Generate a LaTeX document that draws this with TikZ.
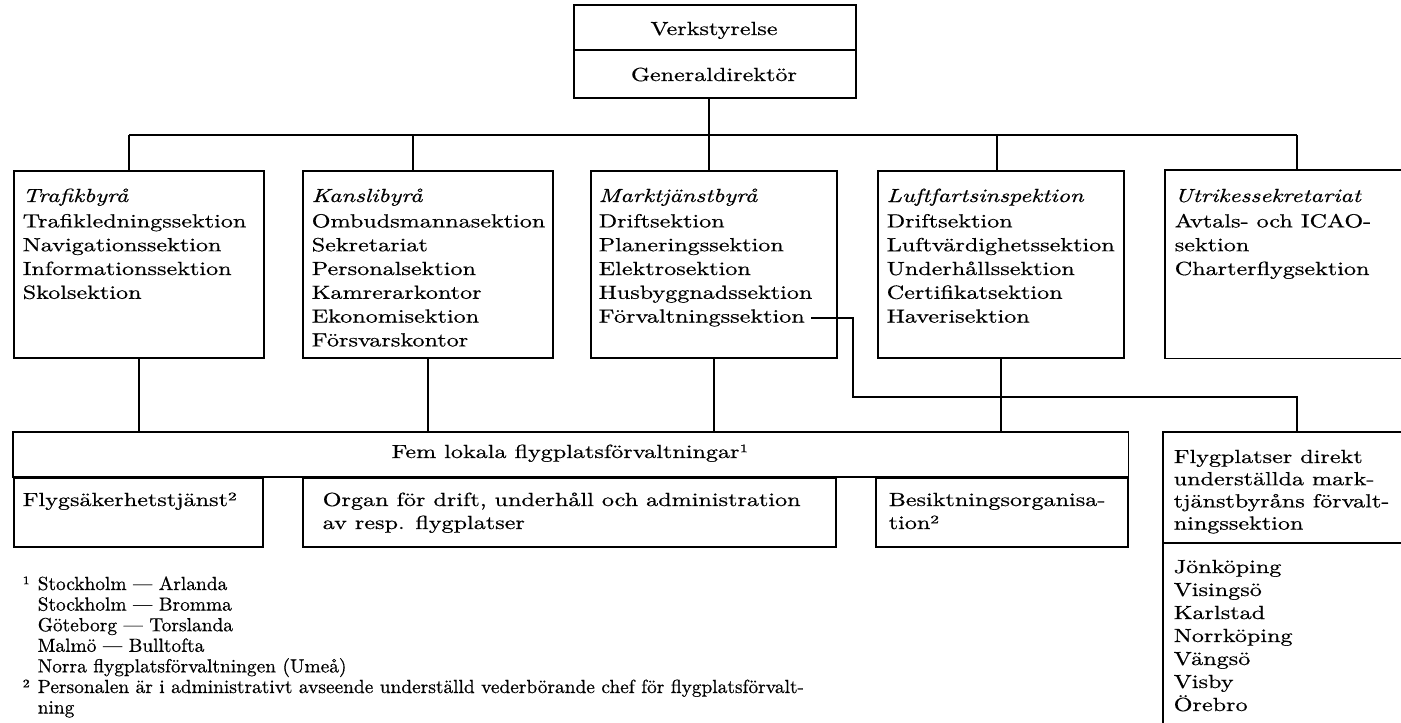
\documentclass[tikz,border=0pt]{standalone}
\usepackage{fontspec}
\setmainfont{lmroman10}[Extension=.otf, UprightFont=*-regular, ItalicFont=*-italic, BoldFont=*-bold, FakeStretch=1.27, FakeBold=0.6]
\newfontfamily\fnfont{lmroman10}[Extension=.otf, UprightFont=*-regular, ItalicFont=*-italic, BoldFont=*-bold, FakeStretch=1.02, FakeBold=0.6]
\newcommand{\mainsz}{\fontsize{19}{23.8}\selectfont}
\newcommand{\fpsz}{\fontsize{19}{22.2}\selectfont}
\newcommand{\townsz}{\fontsize{19}{23}\selectfont}
\newcommand{\fnsz}{\fnfont\fontsize{19}{20.6}\selectfont}
\begin{document}
\begin{tikzpicture}[x=1pt, y=-1pt, line width=1.5pt,
  box/.style={draw, rectangle, inner sep=0pt, anchor=north west},
  ghost/.style={rectangle, inner sep=0pt, anchor=north west},
  coltext/.style={anchor=base west, inner sep=0pt, font=\mainsz},
  ctext/.style={anchor=base, inner sep=0pt, font=\mainsz}]
\useasboundingbox (0,0) rectangle (1401,723);

% top box
\node[box, minimum width=282pt, minimum height=93pt] (top) at (573,4) {};
\coordinate (topdiv) at (0,50);
\draw (top.west |- topdiv) -- (top.east |- topdiv);
\node[ctext] (vt) at (714,35) {Verkstyrelse};
\node[ctext] (gd) at (714,81) {Generaldirektör};

% second-level boxes
\node[box, minimum width=250pt, minimum height=187pt] (b1) at (13,170) {};
\node[box, minimum width=250pt, minimum height=187pt] (b2) at (302,170) {};
\node[box, minimum width=246pt, minimum height=187pt] (b3) at (590,170) {};
\node[box, minimum width=246pt, minimum height=187pt] (b4) at (877,170) {};
\node[ghost, minimum width=236pt, minimum height=187pt] (b5) at (1165,170) {};
\draw (b5.north east) -- (b5.north west) -- (b5.south west) -- (b5.south east);

% bus
\coordinate (d1) at (129,135);
\coordinate (d2) at (413,135);
\coordinate (d3) at (709,135);
\coordinate (d4) at (997,135);
\coordinate (d5) at (1297,135);
\draw (d3) -- (d3 |- top.south);
\draw (d1) -- (d5);
\draw (d1) -- (d1 |- b1.north);
\draw (d2) -- (d2 |- b2.north);
\draw (d3) -- (d3 |- b3.north);
\draw (d4) -- (d4 |- b4.north);
\draw (d5) -- (d5 |- b5.north);

% column texts
\node[coltext] (t1) at (22,202) {\begin{tabular}[t]{@{}l@{}}\textit{Trafikbyrå}\\[1.6pt]
Trafikledningssektion\\ Navigationssektion\\ Informationssektion\\ Skolsektion\end{tabular}};
\node[coltext] (t2) at (311,202) {\begin{tabular}[t]{@{}l@{}}\textit{Kanslibyrå}\\[1.6pt]
Ombudsmannasektion\\ Sekretariat\\ Personalsektion\\ Kamrerarkontor\\ Ekonomisektion\\ Försvarskontor\end{tabular}};
\node[coltext] (t3) at (598,202) {\begin{tabular}[t]{@{}l@{}}\textit{Marktjänstbyrå}\\[1.6pt]
Driftsektion\\ Planeringssektion\\ Elektrosektion\\ Husbyggnadssektion\end{tabular}};
\node[coltext] (fv) at (598,322.6) {Förvaltningssektion};
\node[coltext] (t4) at (886,202) {\begin{tabular}[t]{@{}l@{}}\textit{Luftfartsinspektion}\\[1.6pt]
Driftsektion\\ Luftvärdighetssektion\\ Underhållssektion\\ Certifikatsektion\\ Haverisektion\end{tabular}};
\node[coltext] (t5) at (1174,202) {\begin{tabular}[t]{@{}l@{}}\textit{Utrikessekretariat}\\[1.6pt]
Avtals- och ICAO-\\ sektion\\ Charterflygsektion\end{tabular}};

% lower boxes
\node[ghost, minimum width=1114pt, minimum height=114pt] (fem) at (13,432) {};
\node[box, minimum width=249pt, minimum height=69pt] (s1) at (13,477) {};
\node[box, minimum width=533pt, minimum height=69pt] (s2) at (302,477) {};
\node[box, minimum width=252pt, minimum height=69pt] (s3) at (875,477) {};
\draw (fem.north west) rectangle (fem.east |- s1.north);
\node[ctext] (femt) at (570,458) {Fem lokala flygplatsförvaltningar¹};
\node[coltext] (s1t) at (22,506) {Flygsäkerhetstjänst²};
\node[coltext, font=\townsz] (s2t) at (322,506) {\begin{tabular}[t]{@{}l@{}}Organ för drift, underhåll och administration\\ av resp. flygplatser\end{tabular}};
\node[coltext, font=\townsz] (s3t) at (888,506) {\begin{tabular}[t]{@{}l@{}}Besiktningsorganisa-\\ tion²\end{tabular}};

% connectors to lower boxes
\draw (b1.south) -- (b1.south |- fem.north);
\draw (b2.south) -- (b2.south |- fem.north);
\draw (b3.south) -- (b3.south |- fem.north);
\draw (b4.south) -- (b4.south |- fem.north);

% flygplatser box
\node[ghost, minimum width=238pt, minimum height=291pt] (fp) at (1163,432) {};
\draw (fp.north east) -- (fp.north west) -- (fp.south west);
\coordinate (fpdiv) at (0,543);
\draw (fp.west |- fpdiv) -- (fp.east |- fpdiv);
\node[coltext, font=\fpsz] (fpt) at (1173,463) {\begin{tabular}[t]{@{}l@{}}Flygplatser direkt\\ underställda mark-\\ tjänstbyråns förvalt-\\ ningssektion\end{tabular}};
\node[coltext, font=\townsz] (towns) at (1173,573) {\begin{tabular}[t]{@{}l@{}}Jönköping\\ Visingsö\\ Karlstad\\ Norrköping\\ Vängsö\\ Visby\\ Örebro\end{tabular}};

% Förvaltningssektion connector
\coordinate (jx) at (853,397);
\coordinate (fpj) at (1297,397);
\draw ([xshift=6pt]fv.east) -- (fv.east -| jx) -- (jx) -- (fpj) -- (fpj |- fp.north);

% footnotes
\node[coltext, font=\fnsz] (fn) at (22,590) {\begin{tabular}[t]{@{}p{15pt}@{}l@{}}
¹ & Stockholm — Arlanda\\
 & Stockholm — Bromma\\
 & Göteborg — Torslanda\\
 & Malmö — Bulltofta\\
 & Norra flygplatsförvaltningen (Umeå)\\
² & Personalen är i administrativt avseende underställd vederbörande chef för flygplatsförvalt-\\
 & ning\end{tabular}};
\end{tikzpicture}
\end{document}
